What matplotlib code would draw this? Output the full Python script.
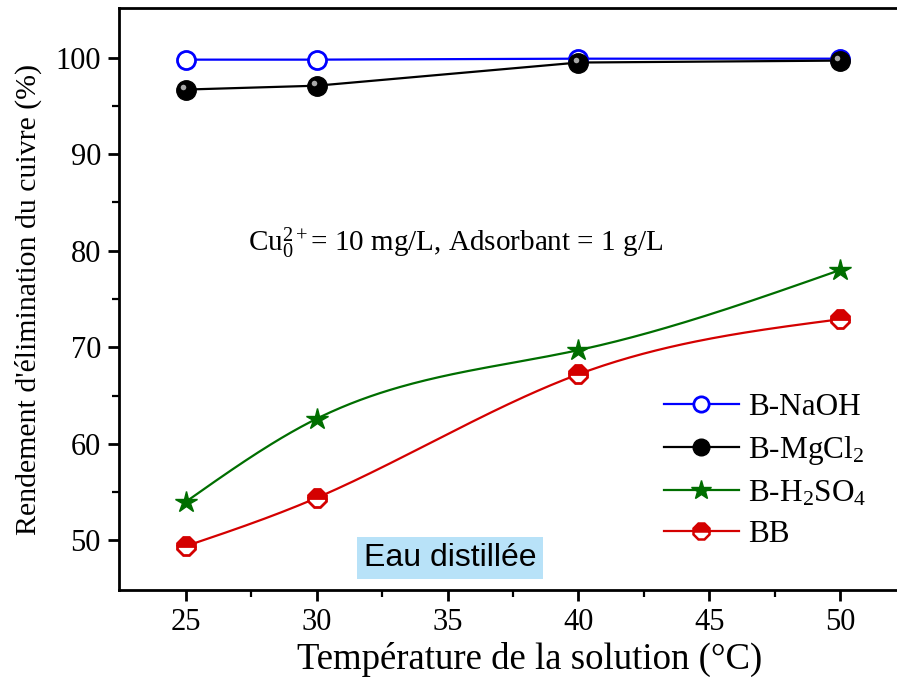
import numpy as np
import matplotlib
matplotlib.use("Agg")
import matplotlib.pyplot as plt
import matplotlib.transforms as mtransforms
from matplotlib.lines import Line2D

plt.rcParams['font.family'] = ['Liberation Serif', 'DejaVu Serif']
plt.rcParams['mathtext.fontset'] = 'custom'
plt.rcParams['mathtext.rm'] = 'Liberation Serif'
plt.rcParams['mathtext.it'] = 'Liberation Serif:italic'
plt.rcParams['mathtext.bf'] = 'Liberation Serif:bold'

# Temperature (°C) and copper removal efficiency (%)
temperature = [25, 30, 40, 50]
b_naoh = [99.8, 99.8, 99.9, 99.9]
b_mgcl2 = [96.7, 97.1, 99.5, 99.7]
b_h2so4 = [54.0, 62.6, 69.7, 78.0]
bb = [49.4, 54.4, 67.2, 72.9]

labels = ["B-NaOH", "B-MgCl$_2$", "B-H$_2$SO$_4$", "BB"]


def natural_spline(x, y, n=200):
    """Natural cubic spline through (x, y), sampled on a dense grid."""
    x = np.asarray(x, float)
    y = np.asarray(y, float)
    k = len(x)
    h = np.diff(x)
    A = np.zeros((k, k))
    r = np.zeros(k)
    A[0, 0] = A[-1, -1] = 1.0
    for i in range(1, k - 1):
        A[i, i - 1] = h[i - 1]
        A[i, i] = 2 * (h[i - 1] + h[i])
        A[i, i + 1] = h[i]
        r[i] = 6 * ((y[i + 1] - y[i]) / h[i] - (y[i] - y[i - 1]) / h[i - 1])
    m = np.linalg.solve(A, r)
    xs = np.linspace(x[0], x[-1], n)
    idx = np.clip(np.searchsorted(x, xs) - 1, 0, k - 2)
    x0, x1 = x[idx], x[idx + 1]
    hh = x1 - x0
    a = (x1 - xs) / hh
    b = (xs - x0) / hh
    ys = (a * y[idx] + b * y[idx + 1]
          + ((a ** 3 - a) * m[idx] + (b ** 3 - b) * m[idx + 1]) * hh ** 2 / 6)
    return xs, ys


W, H = 897, 679
fig = plt.figure(figsize=(W / 100, H / 100), dpi=100)
ax = fig.add_axes([0.1327, 0.1318, 0.8673, 0.8557])

blue = '#0000ff'
green = '#006e00'
red = '#d40000'
lw = 1.6

# B-NaOH: open blue circles
ax.plot(temperature, b_naoh, color=blue, lw=lw, zorder=2)
ax.plot(temperature, b_naoh, ls='none', marker='o', ms=13, mfc='white',
        mec=blue, mew=2, zorder=4)

# B-MgCl2: black spheres with a small highlight
ax.plot(temperature, b_mgcl2, color='black', lw=lw, zorder=3)
ax.plot(temperature, b_mgcl2, ls='none', marker='o', ms=14, mfc='black',
        mec='black', mew=1, zorder=5)
shine = mtransforms.offset_copy(ax.transData, fig=fig, x=-2.5, y=2.5,
                                units='dots')
ax.plot(temperature, b_mgcl2, ls='none', marker='o', ms=4, mfc='#a8a8a8',
        mec='none', zorder=6, transform=shine)

# B-H2SO4: green stars on a smooth curve
xs, ys = natural_spline(temperature, b_h2so4)
ax.plot(xs, ys, color=green, lw=lw, zorder=2)
ax.plot(temperature, b_h2so4, ls='none', marker='*', ms=16, mfc=green,
        mec=green, mew=1, zorder=4)

# BB: half-filled red octagons on a smooth curve
xs, ys = natural_spline(temperature, bb)
ax.plot(xs, ys, color=red, lw=lw, zorder=2)
ax.plot(temperature, bb, ls='none', marker='8', ms=13, mfc=red,
        mfcalt='white', fillstyle='top', mec=red, mew=2, zorder=4)

# Legend handles
handles = [
    Line2D([], [], color=blue, lw=lw, marker='o', ms=11, mfc='white',
           mec=blue, mew=2),
    Line2D([], [], color='black', lw=lw, marker='o', ms=12, mfc='black',
           mec='black'),
    Line2D([], [], color=green, lw=lw, marker='*', ms=15, mfc=green,
           mec=green),
    Line2D([], [], color=red, lw=lw, marker='8', ms=12, mfc=red,
           mfcalt='white', fillstyle='top', mec=red, mew=1.8),
]
ax.legend(handles, labels, loc='upper left', bbox_to_anchor=(0.700, 0.338),
          frameon=False, fontsize=22.5, handlelength=2.4, handletextpad=0.3,
          labelspacing=0.38, borderaxespad=0, borderpad=0)

ax.set_xlim(22.44, 52.18)
ax.set_ylim(44.9, 105.1)
ax.set_xticks([25, 30, 35, 40, 45, 50])
ax.set_xticks([27.5, 32.5, 37.5, 42.5, 47.5], minor=True)
ax.set_yticks([50, 60, 70, 80, 90, 100])
ax.set_yticks([55, 65, 75, 85, 95], minor=True)

for s in ['left', 'bottom', 'top']:
    ax.spines[s].set_linewidth(2)
ax.spines['right'].set_visible(False)
ax.tick_params(which='major', direction='out', length=8, width=2,
               labelsize=22, pad=5)
ax.tick_params(which='minor', direction='out', length=5, width=1.6)
ax.tick_params(top=False, right=False)

ax.set_xlabel('Température de la solution (°C)', fontsize=26.5)
ax.set_ylabel("Rendement d'élimination du cuivre (%)", fontsize=21.5)
ax.xaxis.set_label_coords(0.5283, -0.0895)
ax.yaxis.set_label_coords(-0.099, 0.5)

ax.text(248, H - 243, 'Cu$_0^{2+}$= 10 mg/L, Adsorbant = 1 g/L',
        transform=None, fontsize=21, va='center', ha='left')
ax.text(450, H - 558, 'Eau distillée', transform=None, fontsize=23,
        family='Liberation Sans', ha='center', va='center',
        bbox=dict(boxstyle='square,pad=0.2', fc='#b8e2f8', ec='none'))

fig.savefig('out.png', dpi=100)
